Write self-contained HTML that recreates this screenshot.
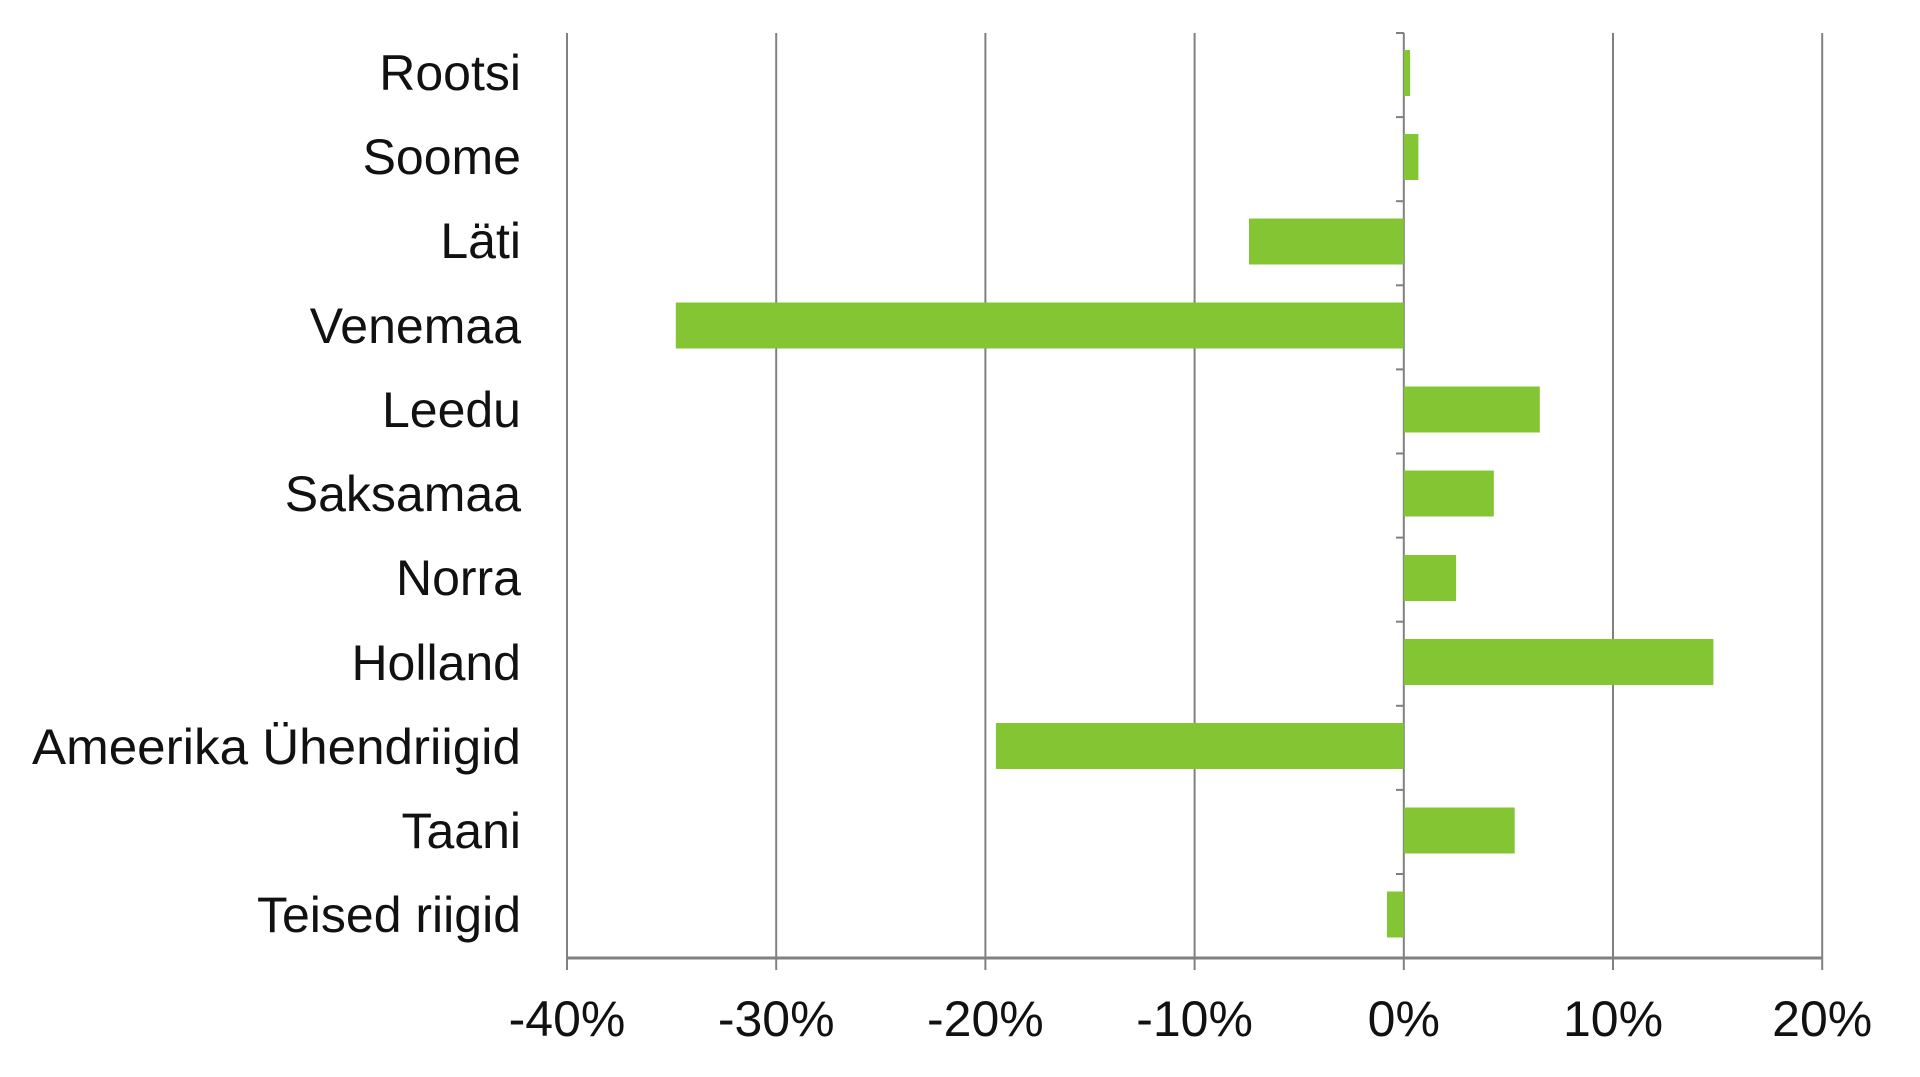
<!DOCTYPE html>
<html><head><meta charset="utf-8"><style>html,body{margin:0;padding:0;background:#fff}svg{display:block}</style></head>
<body>
<svg width="1920" height="1077" viewBox="0 0 1920 1077" xmlns="http://www.w3.org/2000/svg" font-family="Liberation Sans, Arial, sans-serif">
<g stroke="#808080" stroke-width="2">
<line x1="567" y1="33" x2="567" y2="970"/>
<line x1="776.2" y1="33" x2="776.2" y2="970"/>
<line x1="985.4" y1="33" x2="985.4" y2="970"/>
<line x1="1194.6" y1="33" x2="1194.6" y2="970"/>
<line x1="1403.8" y1="33" x2="1403.8" y2="970"/>
<line x1="1613" y1="33" x2="1613" y2="970"/>
<line x1="1822.2" y1="33" x2="1822.2" y2="970"/>
</g>
<line x1="567" y1="958" x2="1822" y2="958" stroke="#808080" stroke-width="3"/>
<g stroke="#808080" stroke-width="2">
<line x1="1396" y1="33" x2="1404" y2="33"/>
<line x1="1396" y1="117.1" x2="1404" y2="117.1"/>
<line x1="1396" y1="201.2" x2="1404" y2="201.2"/>
<line x1="1396" y1="285.3" x2="1404" y2="285.3"/>
<line x1="1396" y1="369.4" x2="1404" y2="369.4"/>
<line x1="1396" y1="453.5" x2="1404" y2="453.5"/>
<line x1="1396" y1="537.6" x2="1404" y2="537.6"/>
<line x1="1396" y1="621.7" x2="1404" y2="621.7"/>
<line x1="1396" y1="705.8" x2="1404" y2="705.8"/>
<line x1="1396" y1="789.9" x2="1404" y2="789.9"/>
<line x1="1396" y1="874" x2="1404" y2="874"/>
</g>
<g fill="#84c534">
<rect x="1403.8" y="50" width="6.3" height="46"/>
<rect x="1403.8" y="134" width="14.6" height="46"/>
<rect x="1249" y="218.5" width="154.8" height="46"/>
<rect x="675.8" y="302.5" width="728" height="46"/>
<rect x="1403.8" y="386.5" width="136" height="46"/>
<rect x="1403.8" y="470.5" width="90" height="46"/>
<rect x="1403.8" y="555" width="52.3" height="46"/>
<rect x="1403.8" y="639" width="309.6" height="46"/>
<rect x="995.9" y="723" width="407.9" height="46"/>
<rect x="1403.8" y="807.5" width="110.9" height="46"/>
<rect x="1387" y="891.5" width="16.8" height="46"/>
</g>
<g font-size="50" fill="#111" text-anchor="end">
<text x="521" y="90">Rootsi</text>
<text x="521" y="174">Soome</text>
<text x="521" y="258">Läti</text>
<text x="521" y="343">Venemaa</text>
<text x="521" y="427">Leedu</text>
<text x="521" y="511">Saksamaa</text>
<text x="521" y="595">Norra</text>
<text x="521" y="680">Holland</text>
<text x="521" y="764" textLength="489" lengthAdjust="spacingAndGlyphs">Ameerika Ühendriigid</text>
<text x="521" y="848">Taani</text>
<text x="521" y="932">Teised riigid</text>
</g>
<g font-size="50" fill="#111" text-anchor="middle">
<text x="567" y="1036">-40%</text>
<text x="776.2" y="1036">-30%</text>
<text x="985.4" y="1036">-20%</text>
<text x="1194.6" y="1036">-10%</text>
<text x="1403.8" y="1036">0%</text>
<text x="1613" y="1036">10%</text>
<text x="1822.2" y="1036">20%</text>
</g>
</svg>
</body></html>
